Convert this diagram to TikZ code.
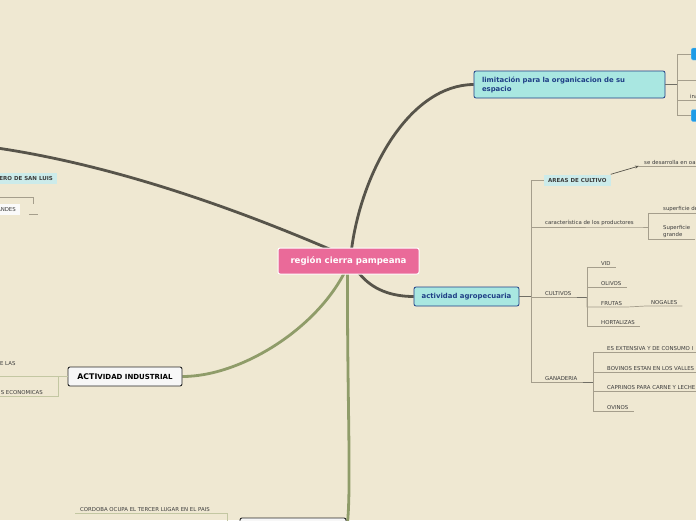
\documentclass[tikz,border=0pt]{standalone}
\usepackage{fontspec}
\setmainfont{DejaVu Sans}
\usetikzlibrary{positioning,arrows.meta,calc,backgrounds}
\definecolor{mapBeige}{HTML}{EFE8D2}
\definecolor{mapPink}{HTML}{EA6A99}
\definecolor{mapCyan}{HTML}{A9E7E1}
\definecolor{mapNavy}{HTML}{1F3F86}
\definecolor{mapPale}{HTML}{CCEBEA}
\definecolor{mapSky}{HTML}{1E9BE6}
\definecolor{mapDark}{HTML}{57544A}
\definecolor{mapOlive}{HTML}{8F9C69}
\definecolor{mapTan}{HTML}{A59E8C}
\definecolor{mapSage}{HTML}{C3C7A2}
\definecolor{mapInk}{HTML}{3C3C3C}

\begin{document}
\begin{tikzpicture}[
  x=1pt, y=-1pt,
  every node/.style={font=\fontsize{5.4}{7}\selectfont, text=mapInk},
  central/.style={rectangle, rounded corners=2pt, draw=white, line width=1pt, fill=mapPink,
                  minimum width=141pt, minimum height=26pt, text=white,
                  font=\fontsize{8.6}{10}\selectfont\bfseries},
  topic/.style={rectangle, rounded corners=2pt, draw=mapNavy, line width=0.8pt, fill=mapCyan,
                text=mapNavy, font=\fontsize{6.9}{9}\selectfont\bfseries, minimum height=19pt},
  industry/.style={rectangle, rounded corners=2pt, draw=black!85, line width=0.9pt,
                   fill=gray!6, text=black, font=\fontsize{7}{8}\selectfont\bfseries,
                   minimum width=114pt, minimum height=19pt},
  palebox/.style={rectangle, fill=mapPale, font=\fontsize{5.5}{6}\selectfont\bfseries,
                  minimum height=11pt, inner xsep=4pt},
  plainbox/.style={rectangle, fill=gray!4, minimum height=11pt, inner xsep=4pt},
  skybox/.style={rectangle, rounded corners=1.5pt, fill=mapSky, draw=mapSky!60!white,
                 minimum width=20pt, minimum height=12pt, anchor=west},
  leaf/.style={anchor=south west, inner xsep=5pt, inner ysep=1.5pt},
  leftleaf/.style={anchor=south east, inner xsep=5pt, inner ysep=1.5pt},
  trunk/.style={draw=mapDark, line width=2.8pt},
  trunkgreen/.style={draw=mapOlive, line width=2.8pt},
  stem/.style={draw=mapDark!85, line width=1pt},
  branch/.style={draw=mapTan, line width=0.7pt},
  indbranch/.style={draw=mapSage, line width=0.8pt},
  >={Stealth[length=4pt]}
]
  \useasboundingbox (0,0) rectangle (696,520);

  % main topics
  \node[central] (region) at (348.5,261) {región cierra pampeana};
  \node[topic, text width=175pt, align=left, minimum height=27pt, inner xsep=8pt]
    (limitacion) at (569.5,84.5) {limitación para la organicacion de su\\espacio};
  \node[topic, minimum width=105pt] (agro) at (466.5,296.5) {actividad agropecuaria};
  \node[industry] (industrial) at (125,376.5)
    {{\fontsize{7.8}{8}\selectfont ACTI}VIDAD INDUSTRIAL};
  \node[industry, minimum width=106pt, minimum height=24pt] (produccion) at (293,530) {};

  % left, cut off
  \node[palebox, anchor=east] (sanluis) at (57,178.5) {ERO DE SAN LUIS};
  \node[plainbox, anchor=east] (andes) at (20,209.5) {ANDES};
  \coordinate (farwest) at (-10,147);
  \coordinate (sanluisleft) at (-2,197.5);
  \coordinate (andesstub) at (33,204);
  \coordinate (andesgap) at (29,214);
  \coordinate (andestail) at (38,214);
  \draw[branch] (sanluisleft) -| (andesstub);
  \draw[branch] (andesgap) -- (andestail);

  % limitacion
  \coordinate (limitfork) at (677,84.5);
  \coordinate (limitfree) at (700,80);
  \node[skybox] (limitA) at (691,54) {};
  \node[leaf] (ina) at (685,100) {ina};
  \node[skybox] (limitB) at (691,115.5) {};
  \draw[stem] (limitacion.east) -- (limitfork);
  \draw[branch] (limitfork) |- (limitA.west);
  \draw[branch] (limitfork) |- (limitfree);
  \draw[branch] (limitfork) |- (ina.south east);
  \draw[branch] (limitfork) |- (limitB.west);

  % actividad agropecuaria
  \coordinate (agrofork) at (531,296.5);
  \node[palebox, anchor=west] (areas) at (544,180) {AREAS DE CULTIVO};
  \node[leaf] (desarrolla) at (639,166) {se desarrolla en oa};
  \node[leaf] (productores) at (540,227) {característica de los productores};
  \coordinate (prodfork) at (648,227);
  \node[leaf] (supde) at (658,213) {superficie de};
  \node[leaf, align=left] (supgrande) at (658,239.5) {Superficie\\grande};
  \node[leaf] (cultivos) at (540,297) {CULTIVOS};
  \coordinate (cultfork) at (587,297);
  \node[leaf] (vid) at (596,267) {VID};
  \node[leaf] (olivos) at (596,287) {OLIVOS};
  \node[leaf] (frutas) at (596,307) {FRUTAS};
  \node[leaf] (nogales) at (646,306) {NOGALES};
  \node[leaf] (hortalizas) at (596,326) {HORTALIZAS};
  \node[leaf] (ganaderia) at (540,382) {GANADERIA};
  \coordinate (ganfork) at (593,382);
  \node[leaf] (extensiva) at (602,352) {ES EXTENSIVA Y DE CONSUMO I};
  \node[leaf] (bovinos) at (602,372) {BOVINOS ESTAN EN LOS VALLES};
  \node[leaf] (caprinos) at (602,391) {CAPRINOS PARA CARNE Y LECHE};
  \node[leaf] (ovinos) at (602,411) {OVINOS};

  \draw[stem] (agro.east) -- (agrofork);
  \draw[branch] (agrofork) |- (areas.west);
  \draw[branch] (agrofork) |- (productores.south east) -- (prodfork);
  \draw[branch] (agrofork) |- (cultivos.south east);
  \draw[branch] (agrofork) |- (ganaderia.south east);
  \draw[mapDark, line width=0.7pt, ->] (areas.north east) -- (desarrolla.south west);
  \draw[branch] (desarrolla.south west) -- (desarrolla.south east);
  \draw[branch] (prodfork) |- (supde.south east);
  \draw[branch] (prodfork) |- (supgrande.south east);
  \draw[stem] (cultivos.south east) -- (cultfork);
  \draw[branch] (cultfork) |- (vid.south east);
  \draw[branch] (cultfork) |- (olivos.south east);
  \draw[branch] (cultfork) |- (frutas.south east) -- (nogales.south west) -- (nogales.south east);
  \draw[branch] (cultfork) |- (hortalizas.south east);
  \draw[stem] (ganaderia.south east) -- (ganfork);
  \draw[branch] (ganfork) |- (extensiva.south east);
  \draw[branch] (ganfork) |- (bovinos.south east);
  \draw[branch] (ganfork) |- (caprinos.south east);
  \draw[branch] (ganfork) |- (ovinos.south east);

  % actividad industrial
  \coordinate (indfork) at (58,376.5);
  \coordinate (indleft) at (-2,376.5);
  \node[anchor=east] (elas) at (19,364) {E LAS};
  \node[leftleaf] (economicas) at (48,396) {S ECONOMICAS};
  \draw[indbranch] (industrial.west) -- (indfork) -- (indleft);
  \draw[indbranch] (indfork) |- (economicas.south west);

  % bottom
  \node[leaf] (cordoba) at (75,513) {CORDOBA OCUPA EL TERCER LUGAR EN EL PAIS};
  \draw[indbranch] (produccion.west) -- ++(-12,0) |- (cordoba.south west);

  \begin{scope}[on background layer]
    \fill[mapBeige] (0,0) rectangle (696,520);
    \draw[trunk] ($(region.north)+(3,2)$) .. controls (362,170) and (410,85) .. (limitacion.west);
    \draw[trunk] ($(region.south)+(10,-2)$) .. controls (372,290) and (392,296.5) .. (agro.west);
    \draw[trunk] ($(region.north)+(-18,2)$) .. controls (250,215) and (120,165) .. (farwest);
    \draw[trunkgreen] ($(region.south)+(-4,-2)$) .. controls (315,330) and (240,376.5) .. (industrial.east);
    \draw[trunkgreen] ($(region.south)+(-1,-2)$) .. controls (347,400) and (352,500) .. (produccion.east);
  \end{scope}
\end{tikzpicture}
\end{document}
